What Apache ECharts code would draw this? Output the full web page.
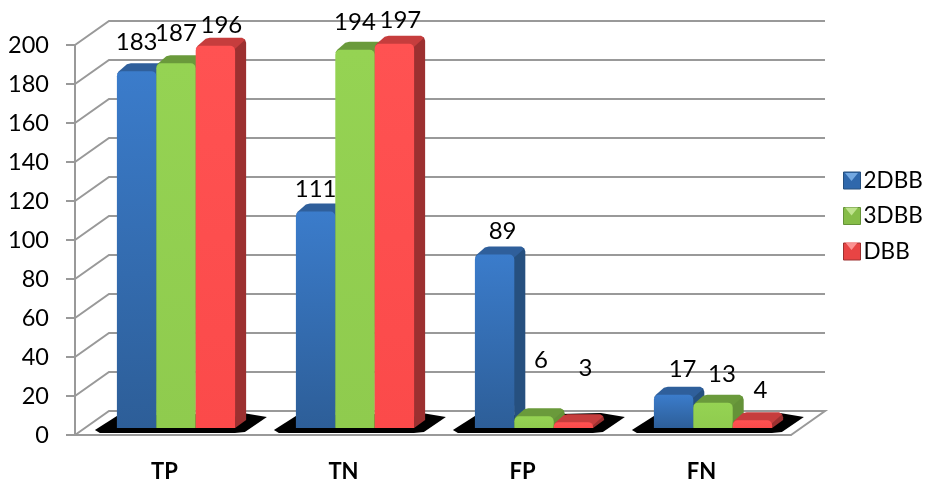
<!DOCTYPE html>
<html>
<head>
<meta charset="utf-8">
<style>html,body{margin:0;padding:0;background:#fff}#chart{width:927px;height:481px}</style>
<script src="https://cdn.jsdelivr.net/npm/echarts@6/dist/echarts.min.js"></script>
</head>
<body>
<div id="chart"></div>
<script>
// Detection counts per outcome class and network variant
const categories = ['TP', 'TN', 'FP', 'FN'];
const yTicks = [0, 20, 40, 60, 80, 100, 120, 140, 160, 180, 200];
const seriesNames = ['2DBB', '3DBB', 'DBB'];
const values2DBB = [183, 111, 89, 17];
const values3DBB = [187, 194, 6, 13];
const valuesDBB = [196, 197, 3, 4];

// Hand-placed label nudges (dx, dy from the top centre of each bar)
const labelNudge2DBB = [[0, -29], [0, -22], [8, -23], [9, -26]];
const labelNudge3DBB = [[0, -30], [0, -27], [7, -56], [9, -28]];
const labelNudgeDBB = [[6, -21], [6, -24], [12, -54], [8, -30]];

// Pseudo-3D projection of the chart box
const WALL_DX = 34, WALL_DY = -24;
const BAR_LIFT = 7, BAR_DX = 11, BAR_DY = -8;
const BAR_W = 39.4, GROUP_SHIFT = 11.5;
const GRID_COLOR = '#999999';

const palettes = [
  { front: ['#3b7ccb', '#2d5e98'], top: '#2f5f9b', side: '#26507f', legend: '#2f68ac', glow: '#7fb4ea' },
  { front: ['#95d353', '#8fcb4e'], top: '#6a9a3b', side: '#649238', legend: '#86bd48', glow: '#c9ea9a' },
  { front: ['#ff5252', '#fb4a4a'], top: '#c63d3d', side: '#9c3030', legend: '#e84444', glow: '#ffa0a0' }
];

function renderWall(params, api) {
  const v = api.value(1);
  const sys = params.coordSys;
  const y = api.coord([0, v])[1];
  const left = sys.x, right = sys.x + sys.width;
  const pts = v === 0
    ? [[left, y], [left + WALL_DX, y + WALL_DY], [right + WALL_DX, y + WALL_DY], [right, y]]
    : [[left, y], [left + WALL_DX, y + WALL_DY], [right + WALL_DX, y + WALL_DY]];
  return {
    type: 'polyline',
    silent: true,
    shape: { points: pts },
    style: { stroke: GRID_COLOR, lineWidth: 2, fill: null }
  };
}

function renderFloorShadow(params, api) {
  const cx = api.coord([api.value(0), 0]);
  const x0 = cx[0] + GROUP_SHIFT - BAR_W * 1.5, y0 = cx[1];
  const outline = [[-22, -5], [0, -19], [126, -22], [150, -18], [128, -3], [118, -2], [-17, -2]];
  return {
    type: 'polygon',
    silent: true,
    shape: { points: outline.map(p => [x0 + p[0], y0 + p[1]]) },
    style: { fill: '#000' }
  };
}

function barRenderer(seriesIdx, nudges) {
  const pal = palettes[seriesIdx];
  return function (params, api) {
    const cat = api.value(0), val = api.value(1);
    const base = api.coord([cat, 0]);
    const tip = api.coord([cat, val]);
    const x0 = base[0] + GROUP_SHIFT - BAR_W * 1.5 + seriesIdx * BAR_W;
    const x1 = x0 + BAR_W;
    const yb = base[1] - BAR_LIFT;
    const yt = tip[1] - BAR_LIFT;
    const nudge = nudges[cat];
    return {
      type: 'group',
      children: [
        {
          type: 'polygon',
          shape: { points: [[x1 - 2, yt + 2], [x1 + BAR_DX - 3, yt + BAR_DY + 1], [x1 + BAR_DX - 1, yt + BAR_DY + 2], [x1 + BAR_DX, yt + BAR_DY + 5], [x1 + BAR_DX, yb + BAR_DY], [x1, yb]] },
          style: { fill: pal.side }
        },
        {
          type: 'polygon',
          shape: { points: [[x0, yt + 3], [x0 + 2, yt], [x0 + BAR_DX - 1, yt + BAR_DY + 1], [x0 + BAR_DX + 3, yt + BAR_DY], [x1 + BAR_DX - 4, yt + BAR_DY], [x1 + BAR_DX - 1, yt + BAR_DY + 2], [x1, yt + 3]] },
          style: { fill: pal.top }
        },
        {
          type: 'rect',
          shape: { x: x0, y: yt, width: BAR_W, height: yb - yt, r: [Math.min(5, yb - yt), Math.min(5, yb - yt), 0, 0] },
          style: {
            fill: new echarts.graphic.LinearGradient(0, 0, 0, 1, [
              { offset: 0, color: pal.front[0] },
              { offset: 1, color: pal.front[1] }
            ])
          }
        },
        {
          type: 'text',
          style: {
            text: String(val),
            x: x0 + BAR_W / 2 + nudge[0],
            y: yt + nudge[1],
            align: 'center',
            verticalAlign: 'middle',
            font: '24px Lato',
            fill: '#000'
          }
        }
      ]
    };
  };
}

function toPairs(values) {
  return values.map((v, i) => [i, v]);
}

// Pale wedge on the top of each legend key
const LEGEND_X = 843, LEGEND_Y = [172, 206.5, 241], KEY = 17;
const legendWedges = seriesNames.map((name, i) => ({
  type: 'polygon',
  z: 100,
  silent: true,
  shape: { points: [[LEGEND_X + 2, LEGEND_Y[i] + 1], [LEGEND_X + KEY - 2, LEGEND_Y[i] + 1], [LEGEND_X + KEY / 2, LEGEND_Y[i] + 9]] },
  style: { fill: palettes[i].glow, opacity: 0.85 }
}));

const chart = echarts.init(document.getElementById('chart'), null, { renderer: 'canvas' });

chart.setOption({
  animation: false,
  backgroundColor: '#fff',
  grid: { left: 75, right: 136, top: 45, bottom: 46, outerBoundsMode: 'none' },
  graphic: legendWedges,
  legend: {
    left: LEGEND_X - 5,
    top: 164,
    orient: 'vertical',
    itemWidth: KEY,
    itemHeight: KEY,
    itemGap: 12.5,
    icon: 'rect',
    selectedMode: false,
    textStyle: { fontFamily: 'Lato', fontSize: 22.5, color: '#000', padding: [0, 0, 0, -2] },
    data: seriesNames.map((name, i) => ({
      name,
      itemStyle: { color: palettes[i].legend, borderColor: palettes[i].side, borderWidth: 1 }
    }))
  },
  xAxis: {
    type: 'category',
    data: categories,
    axisLine: { lineStyle: { color: GRID_COLOR, width: 2 } },
    axisTick: { length: 8, lineStyle: { color: GRID_COLOR, width: 2 } },
    axisLabel: { margin: 26, fontFamily: 'Lato', fontWeight: 'bold', fontSize: 22, color: '#000' }
  },
  yAxis: {
    type: 'value',
    min: 0,
    max: 200,
    interval: 20,
    axisLine: { show: true, lineStyle: { color: GRID_COLOR, width: 2 } },
    axisTick: { show: true, length: 9, lineStyle: { color: GRID_COLOR, width: 2 } },
    axisLabel: { margin: 26, fontFamily: 'Lato', fontSize: 23.5, color: '#000' },
    splitLine: { show: false }
  },
  series: [
    { type: 'custom', clip: false, silent: true, z: 1, data: yTicks.map(v => [0, v]), renderItem: renderWall },
    { type: 'custom', clip: false, silent: true, z: 2, data: categories.map((c, i) => [i, 0]), renderItem: renderFloorShadow },
    { name: seriesNames[0], type: 'custom', clip: false, z: 3, data: toPairs(values2DBB), renderItem: barRenderer(0, labelNudge2DBB), encode: { x: 0, y: 1 } },
    { name: seriesNames[1], type: 'custom', clip: false, z: 4, data: toPairs(values3DBB), renderItem: barRenderer(1, labelNudge3DBB), encode: { x: 0, y: 1 } },
    { name: seriesNames[2], type: 'custom', clip: false, z: 5, data: toPairs(valuesDBB), renderItem: barRenderer(2, labelNudgeDBB), encode: { x: 0, y: 1 } }
  ]
});
</script>
</body>
</html>
